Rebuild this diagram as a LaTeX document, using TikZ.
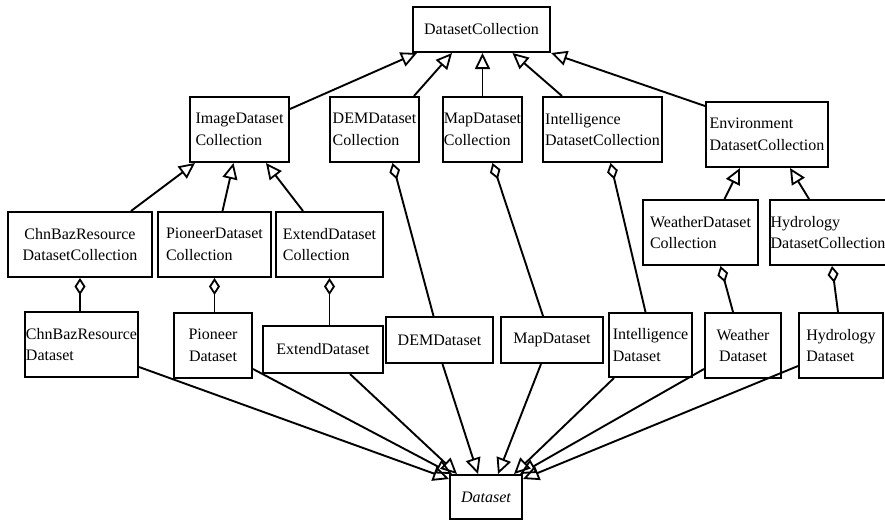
\documentclass[tikz,border=0pt]{standalone}
\usepackage{fontspec}
\setmainfont{Liberation Serif}
\usetikzlibrary{arrows.meta,positioning,calc}

\begin{document}
\begin{tikzpicture}[
        x=1pt, y=-1pt,
        block/.style={rectangle, draw, line width=2pt, inner sep=1pt, minimum height=65pt, align=left, font=\fontsize{16}{21.5}\selectfont},
        inherit/.style={-{Triangle[open,length=16pt,width=15pt,line width=1.8pt]}, line width=1.9pt},
        aggr/.style={{Diamond[open,length=17pt,width=11pt,line width=1.8pt]}-, line width=1.9pt}
    ]
        \useasboundingbox (0,0) rectangle (885,520);

        % Top
        \node[block, minimum width=137pt, minimum height=45pt] (dc) at (481.5,29.5) {DatasetCollection};

        % Collections
        \node[block, minimum width=99pt] (img) at (239.5,129.5) {ImageDataset\\Collection};
        \node[block, minimum width=89pt] (demc) at (374.5,129.5) {DEMDataset\\Collection};
        \node[block, minimum width=79pt] (mapc) at (482.5,129.5) {MapDataset\\Collection};
        \node[block, minimum width=119pt] (intc) at (602.5,129.5) {Intelligence\\DatasetCollection};
        \node[block, minimum width=122pt] (envc) at (767,134.5) {Environment\\DatasetCollection};

        % Sub collections
        \node[block, minimum width=144pt, align=center] (chnc) at (80,244.5) {ChnBazResource\\DatasetCollection};
        \node[block, minimum width=113pt] (pioc) at (214.5,244.5) {PioneerDataset\\Collection};
        \node[block, minimum width=107pt] (extc) at (329.5,244.5) {ExtendDataset\\Collection};
        \node[block, minimum width=115pt] (weac) at (700.5,232.5) {WeatherDataset\\Collection};
        \node[block, minimum width=112pt] (hydc) at (828,232.5) {Hydrology\\DatasetCollection};

        % Datasets
        \node[block, minimum width=111pt] (chnd) at (81.5,344.5) {ChnBazResource\\Dataset};
        \node[block, minimum width=78pt, align=center] (piod) at (213,345.5) {Pioneer\\Dataset};
        \node[block, minimum width=120pt, minimum height=47pt] (extd) at (323,349.5) {ExtendDataset};
        \node[block, minimum width=107pt, minimum height=46pt] (demd) at (439.5,340) {DEMDataset};
        \node[block, minimum width=102pt, minimum height=46pt] (mapd) at (552,340) {MapDataset};
        \node[block, minimum width=83pt, minimum height=64pt] (intd) at (650.5,345) {Intelligence\\Dataset};
        \node[block, minimum width=76pt, align=center] (wead) at (743,345.5) {Weather\\Dataset};
        \node[block, minimum width=84pt] (hydd) at (841,345.5) {Hydrology\\Dataset};

        % Bottom
        \node[block, minimum width=72pt, minimum height=44pt, font=\fontsize{16}{21.5}\selectfont\itshape] (ds) at (486,497) {Dataset};

        % Generalization to DatasetCollection
        \draw[inherit] ($(img.north east)+(0,13)$) -- ($(dc.south west)+(5,0)$);
        \draw[inherit] ($(demc.north east)+(-6,0)$) -- ($(dc.south west)+(40,0)$);
        \draw[inherit] (mapc.north) -- (mapc.north |- dc.south);
        \draw[inherit] ($(intc.north west)+(20,0)$) -- ($(dc.south)+(31,0)$);
        \draw[inherit] ($(envc.north west)+(0,5)$) -- (dc.south east);

        % Generalization to collections
        \draw[inherit] ($(chnc.north east)+(-22,0)$) -- ($(img.south west)+(6,0)$);
        \draw[inherit] ($(pioc.north)+(8,0)$) -- ($(img.south)+(-6,0)$);
        \draw[inherit] ($(extc.north west)+(28,0)$) -- ($(img.south east)+(-24,0)$);
        \draw[inherit] ($(weac.north)+(24,0)$) -- ($(envc.south)+(-27,0)$);
        \draw[inherit] ($(hydc.north)+(-19,0)$) -- ($(envc.south)+(23,0)$);

        % Aggregation
        \draw[aggr] (chnc.south) -- (chnc.south |- chnd.north);
        \draw[aggr] (pioc.south) -- (pioc.south |- piod.north);
        \draw[aggr] (extc.south) -- (extc.south |- extd.north);
        \draw[aggr] ($(demc.south)+(18,0)$) -- ($(demd.north)+(-6,0)$);
        \draw[aggr] ($(mapc.south)+(10,0)$) -- ($(mapd.north)+(-9,0)$);
        \draw[aggr] ($(intc.south)+(8,0)$) -- ($(intd.north)+(-5,0)$);
        \draw[aggr] ($(weac.south)+(20,0)$) -- ($(wead.north)+(-10,0)$);
        \draw[aggr] ($(hydc.south)+(4,0)$) -- ($(hydd.north)+(-3,0)$);

        % Generalization to Dataset
        \draw[inherit] ($(chnd.south east)+(0,-11)$) -- ($(ds.north west)+(0,5)$);
        \draw[inherit] ($(piod.south east)+(0,-10)$) -- ($(ds.north west)+(3,0)$);
        \draw[inherit] ($(extd.south)+(27,0)$) -- ($(ds.north west)+(8,0)$);
        \draw[inherit] ($(demd.south)+(3,0)$) -- ($(ds.north)+(-8,0)$);
        \draw[inherit] ($(mapd.south)+(-11,0)$) -- ($(ds.north)+(12,0)$);
        \draw[inherit] ($(intd.south west)+(6,0)$) -- ($(ds.north east)+(-9,0)$);
        \draw[inherit] ($(wead.south west)+(0,-10)$) -- ($(ds.north east)+(-3,0)$);
        \draw[inherit] ($(hydd.south west)+(0,-13)$) -- ($(ds.north east)+(0,5)$);
    \end{tikzpicture}
\end{document}
